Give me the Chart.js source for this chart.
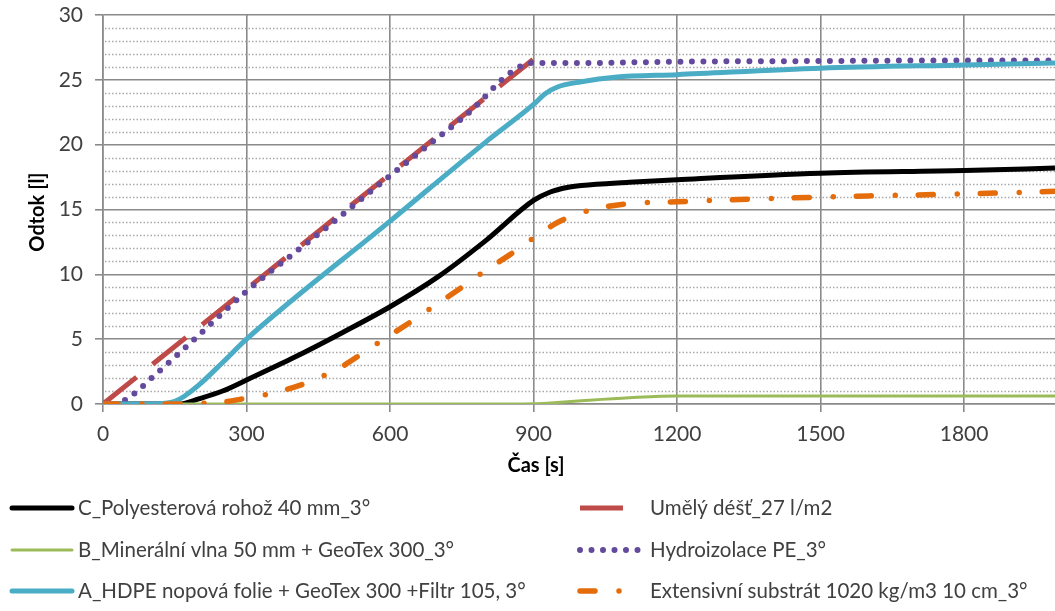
<!DOCTYPE html>
<html>
<head>
<meta charset="utf-8">
<script src="https://cdn.jsdelivr.net/npm/chart.js@4.4.0/dist/chart.umd.min.js"></script>
<style>
    html, body { margin: 0; padding: 0; background: #fff; overflow: hidden; }
    #wrap { position: relative; width: 1055px; height: 611px; }
</style>
</head>
<body>
<div id="wrap"><canvas id="odtokChart" width="1055" height="611"></canvas></div>
<script>
// cas [s] a odtok [l] pro kazdou serii
const polyesterT = [0, 100, 160, 200, 250, 300, 400, 500, 600, 700, 800, 900, 935, 970, 1000, 1100, 1200, 1500, 1800, 1990];
const polyesterV = [0, 0, 0, 0.4, 1.0, 1.85, 3.6, 5.5, 7.5, 9.8, 12.6, 15.7, 16.35, 16.7, 16.85, 17.1, 17.3, 17.8, 18.0, 18.2];

const destT = [0, 900];
const destV = [0, 26.6];

const mineralT = [0, 850, 900, 950, 1000, 1100, 1200, 1500, 1800, 1990];
const mineralV = [0, 0, 0.02, 0.12, 0.25, 0.48, 0.62, 0.62, 0.62, 0.62];

const peT = [0, 30, 46, 67, 100, 150, 200, 300, 450, 600, 750, 900, 1000, 1200, 1500, 1800, 1990];
const peV = [0, 0, 0.3, 0.85, 1.95, 3.6, 5.3, 8.7, 13.1, 17.6, 22.0, 26.3, 26.3, 26.4, 26.45, 26.5, 26.5];

const hdpeT = [0, 100, 130, 150, 170, 200, 250, 300, 600, 800, 900, 925, 950, 1000, 1070, 1200, 1500, 1800, 1990];
const hdpeV = [0, 0, 0.05, 0.2, 0.6, 1.45, 3.2, 5.0, 14.1, 20.2, 23.1, 23.95, 24.45, 24.85, 25.2, 25.4, 25.9, 26.15, 26.3];

const substratT = [0, 150, 200, 250, 300, 350, 400, 450, 500, 550, 600, 650, 700, 750, 800, 850, 900, 950, 1000, 1050, 1100, 1200, 1400, 1600, 1800, 1990];
const substratV = [0, 0, 0.05, 0.15, 0.45, 0.8, 1.3, 2.0, 2.9, 4.1, 5.3, 6.5, 7.75, 9.0, 10.3, 11.5, 12.8, 14.0, 14.75, 15.2, 15.45, 15.6, 15.85, 16.05, 16.2, 16.4];

const seriesLabels = [
    'C_Polyesterová rohož 40 mm_3°',
    'Umělý déšť_27 l/m2',
    'B_Minerální vlna 50 mm + GeoTex 300_3°',
    'Hydroizolace PE_3°',
    'A_HDPE nopová folie + GeoTex 300 +Filtr 105, 3°',
    'Extensivní substrát 1020 kg/m3 10 cm_3°'
];

const xMin = 0, xMax = 1990, xStep = 300;
const yMin = 0, yMax = 30, yStep = 5, yMinorStep = 1;

const toPoints = (t, v) => t.map((x, i) => ({x: x, y: v[i]}));

Chart.defaults.font.family = 'Lato';
Chart.defaults.color = '#404040';

const seriesData = [
    toPoints(polyesterT, polyesterV),
    toPoints(destT, destV),
    toPoints(mineralT, mineralV),
    toPoints(peT, peV),
    toPoints(hdpeT, hdpeV),
    toPoints(substratT, substratV)
];
const styles = [
    {borderColor: '#000000', borderWidth: 5},
    {borderColor: '#BE4B48', borderWidth: 5, borderDash: [43, 20.5], borderCapStyle: 'butt'},
    {borderColor: '#9BBB59', borderWidth: 3},
    {borderColor: '#634A9C', borderWidth: 6, borderDash: [0, 11.5], borderCapStyle: 'round'},
    {borderColor: '#4BACC6', borderWidth: 5},
    {borderColor: '#E46C0A', borderWidth: 5.5, borderDash: [15, 24, 0, 23], borderCapStyle: 'round'}
];

const datasets = seriesData.map((d, i) => Object.assign({
    label: seriesLabels[i],
    data: d,
    pointRadius: 0,
    fill: false,
    cubicInterpolationMode: 'monotone',
    order: seriesData.length - i
}, styles[i]));

// teckovane vedlejsi mrizky
const minorGrid = {
    id: 'minorGrid',
    beforeDatasetsDraw(chart) {
        const {ctx, chartArea, scales} = chart;
        ctx.save();
        ctx.strokeStyle = '#a8a8a8';
        ctx.lineWidth = 1.5;
        ctx.setLineDash([1.5, 2]);
        for (let v = yMin + yMinorStep; v < yMax; v += yMinorStep) {
            if (v % yStep === 0) continue;
            const y = Math.round(scales.y.getPixelForValue(v)) + 0.5;
            ctx.beginPath();
            ctx.moveTo(chartArea.left + 2, y);
            ctx.lineTo(chartArea.right, y);
            ctx.stroke();
        }
        ctx.restore();
    }
};

// nazvy os a legenda
const titlesAndLegend = {
    id: 'titlesAndLegend',
    afterDraw(chart) {
        const ctx = chart.ctx;
        ctx.save();
        ctx.fillStyle = '#000';
        ctx.font = 'bold 20px Lato';
        ctx.textAlign = 'center';
        ctx.textBaseline = 'middle';
        ctx.fillText('Čas [s]', 536, 466);
        ctx.translate(38, 212);
        ctx.rotate(-Math.PI / 2);
        ctx.fillText('Odtok [l]', 0, 0);
        ctx.restore();

        const rowsY = [508, 550, 591];
        const cols = [{x1: 12, x2: 72, tx: 78}, {x1: 580, x2: 640, tx: 650}];
        chart.data.datasets.forEach((ds, i) => {
            const c = cols[i % 2];
            const y = rowsY[Math.floor(i / 2)];
            ctx.save();
            ctx.strokeStyle = ds.borderColor;
            ctx.lineWidth = ds.borderWidth;
            ctx.lineCap = ds.borderCapStyle || 'round';
            ctx.setLineDash(ds.borderDash || []);
            ctx.beginPath();
            ctx.moveTo(c.x1, y);
            ctx.lineTo(c.x2, y);
            ctx.stroke();
            ctx.setLineDash([]);
            ctx.fillStyle = '#404040';
            ctx.font = '20.5px Lato';
            ctx.textAlign = 'left';
            ctx.textBaseline = 'middle';
            ctx.fillText(ds.label, c.tx, y);
            ctx.restore();
        });
    }
};

new Chart(document.getElementById('odtokChart'), {
    type: 'line',
    data: {datasets: datasets},
    options: {
        responsive: false,
        animation: false,
        layout: {padding: {top: 15, right: 0, left: 0, bottom: 0}},
        plugins: {legend: {display: false}, tooltip: {enabled: false}},
        scales: {
            x: {
                type: 'linear',
                min: xMin,
                max: xMax,
                ticks: {stepSize: xStep, font: {size: 21}, padding: 10, maxRotation: 0, color: '#404040',
                    callback: (v) => String(v)},
                afterBuildTicks: (s) => { s.ticks = s.ticks.filter(t => t.value % xStep === 0); },
                afterFit: (s) => { s.height = 207; s.paddingLeft = 0; s.paddingRight = 0; },
                grid: {color: '#8a8a8a', lineWidth: 1.6, tickLength: 8},
                border: {color: '#8a8a8a', width: 1.6}
            },
            y: {
                min: yMin,
                max: yMax,
                ticks: {stepSize: yStep, font: {size: 21}, padding: 12, color: '#404040',
                    callback: (v) => String(v)},
                afterFit: (s) => { s.width = 103; s.paddingTop = 0; s.paddingBottom = 0; },
                grid: {color: '#8a8a8a', lineWidth: 1.6, tickLength: 8},
                border: {color: '#8a8a8a', width: 1.6}
            }
        }
    },
    plugins: [minorGrid, titlesAndLegend]
});
</script>
</body>
</html>
